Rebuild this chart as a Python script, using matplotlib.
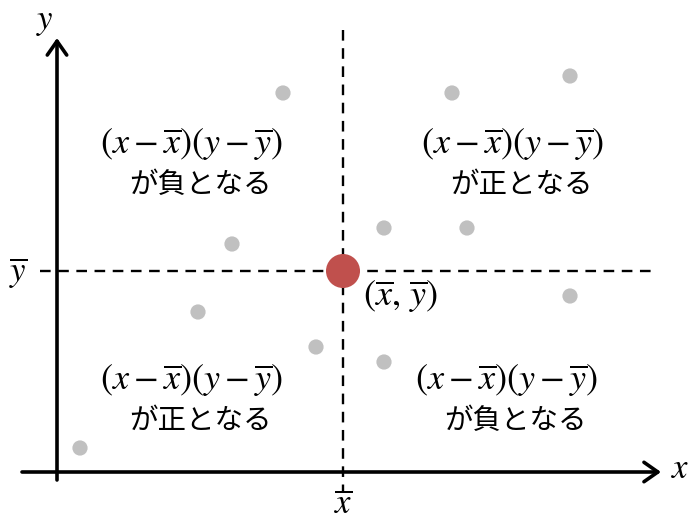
import matplotlib
matplotlib.use("Agg")
import matplotlib.pyplot as plt

plt.rcParams['mathtext.fontset'] = 'stix'
plt.rcParams['font.family'] = ['Noto Sans CJK JP', 'DejaVu Sans']

# data (pixel-like coordinates, y downwards)
gray_x = [283, 452, 570, 232, 384, 467, 198, 316, 384, 570, 80]
gray_y = [93, 93, 76, 244, 228, 228, 312, 347, 362, 296, 448]
mean_x, mean_y = 343, 271
axis_x0, axis_y0 = 57, 472

quad_labels = ["が負となる", "が正となる", "が正となる", "が負となる"]
quad_cx = [191, 512, 191, 506]
quad_cy = [145, 145, 381, 381]
expr = r"$(x-\overline{x})(y-\overline{y})$"

fig = plt.figure(figsize=(6.91, 5.22), dpi=100)
ax = fig.add_axes([0, 0, 1, 1])
ax.set_xlim(0, 691)
ax.set_ylim(522, 0)
ax.axis('off')

# dashed mean lines
ax.plot([mean_x, mean_x], [30, 492], color='black', lw=1.7, dashes=(4.5, 3.2), zorder=1)
ax.plot([40, 652], [mean_y, mean_y], color='black', lw=1.7, dashes=(4.5, 3.2), zorder=1)

# axes arrows
arrow = dict(arrowstyle='->,head_length=1.0,head_width=0.7', lw=2.6, color='black',
             shrinkA=0, shrinkB=0)
ax.annotate('', xy=(axis_x0, 38), xytext=(axis_x0, 480), arrowprops=arrow)
ax.annotate('', xy=(661, axis_y0), xytext=(22, axis_y0), arrowprops=arrow)

# points
ax.scatter(gray_x, gray_y, s=120, color='#c0c0c0', edgecolors='none', zorder=3)
ax.scatter([mean_x], [mean_y], s=600, color='#c0504d', edgecolors='none', zorder=4)

# quadrant labels
for lab, cx, cy in zip(quad_labels, quad_cx, quad_cy):
    ax.text(cx, cy, expr, fontsize=26, ha='center', va='center')
    ax.text(cx + 9, cy + 40, lab, fontsize=20.5, ha='center', va='center')

# axis labels
ax.text(401, 297, r"$(\overline{x},\,\overline{y})$", fontsize=26, ha='center', va='center')
ax.text(45, 20, r"$y$", fontsize=25, ha='center', va='center')
ax.text(680, 468, r"$x$", fontsize=25, ha='center', va='center')
ax.text(18, 272, r"$\overline{y}$", fontsize=25, ha='center', va='center')
ax.text(343, 504, r"$\overline{x}$", fontsize=25, ha='center', va='center')

fig.savefig("out.png", dpi=100)
